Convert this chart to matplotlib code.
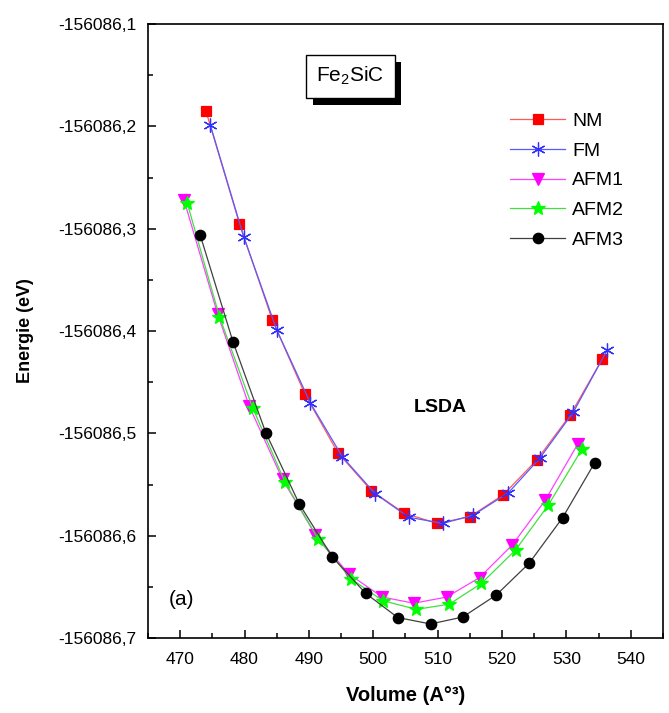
import numpy as np
import matplotlib
matplotlib.use('Agg')
import matplotlib.pyplot as plt
import matplotlib.patheffects as pe
from matplotlib.ticker import MultipleLocator, FuncFormatter

plt.rcParams['font.family'] = ['Liberation Sans', 'DejaVu Sans']
plt.rcParams['mathtext.fontset'] = 'custom'
plt.rcParams['mathtext.rm'] = 'Liberation Sans'
plt.rcParams['mathtext.default'] = 'regular'

E0 = -156086.0

# volumes (A°^3) and energies (offset from -156086 eV)
v_nm = [474.0, 479.2, 484.3, 489.4, 494.5, 499.7, 504.8, 509.9, 515.0, 520.2, 525.4, 530.6, 535.6]
e_nm = [-0.185, -0.295, -0.389, -0.462, -0.519, -0.556, -0.578, -0.588, -0.5815, -0.560, -0.526, -0.482, -0.427]

v_fm = [474.7, 479.9, 485.0, 490.2, 495.2, 500.3, 505.5, 510.8, 515.5, 521.0, 525.9, 531.1, 536.3]
e_fm = [-0.199, -0.3085, -0.399, -0.470, -0.523, -0.559, -0.582, -0.588, -0.580, -0.558, -0.524, -0.479, -0.419]

v_afm1 = [470.6, 475.8, 480.7, 485.9, 491.0, 496.2, 501.4, 506.3, 511.4, 516.5, 521.6, 526.7, 531.8]
e_afm1 = [-0.272, -0.383, -0.473, -0.545, -0.599, -0.6375, -0.660, -0.666, -0.660, -0.641, -0.609, -0.5655, -0.510]

v_afm2 = [471.1, 476.1, 481.3, 486.3, 491.4, 496.5, 501.5, 506.7, 511.8, 516.8, 522.1, 527.2, 532.4]
e_afm2 = [-0.275, -0.386, -0.4756, -0.548, -0.603, -0.642, -0.6636, -0.672, -0.667, -0.6466, -0.614, -0.570, -0.5156]

v_afm3 = [473.1, 478.2, 483.3, 488.5, 493.6, 498.8, 503.8, 508.9, 513.9, 519.1, 524.2, 529.4, 534.4]
e_afm3 = [-0.306, -0.4105, -0.4994, -0.569, -0.6205, -0.6563, -0.680, -0.6863, -0.6795, -0.658, -0.627, -0.5825, -0.5287]

series = [
    ('NM', v_nm, e_nm, '#ff5a5a', 'red', 's', 7),
    ('FM', v_fm, e_fm, '#5a5aff', '#3030ff', (6, 2, 0), 10),
    ('AFM1', v_afm1, e_afm1, '#ff40ff', '#ff00ff', 'v', 8),
    ('AFM2', v_afm2, e_afm2, '#40e040', '#00ff00', '*', 10),
    ('AFM3', v_afm3, e_afm3, '#404040', 'black', 'o', 7.5),
]


def main():
    fig = plt.figure(figsize=(6.69, 7.13), dpi=100)
    ax = fig.add_axes([0.2212, 0.1052, 0.7698, 0.8611])

    for name, v, e, lc, mc, mk, ms in series:
        ax.plot(v, E0 + np.array(e), color=lc, lw=0.9, marker=mk, ms=ms,
                markerfacecolor=mc, markeredgecolor=mc, markeredgewidth=0.9,
                label=name)

    ax.set_xlim(465, 545)
    ax.set_ylim(E0 - 0.7, E0 - 0.1)
    ax.xaxis.set_major_locator(MultipleLocator(10))
    ax.xaxis.set_minor_locator(MultipleLocator(5))
    ax.yaxis.set_major_locator(MultipleLocator(0.1))
    ax.yaxis.set_minor_locator(MultipleLocator(0.05))
    ax.yaxis.set_major_formatter(FuncFormatter(lambda y, p: ('%.1f' % y).replace('.', ',')))
    ax.tick_params(which='both', direction='in', top=False, right=False, labelsize=12.5, width=1.1)
    ax.tick_params(which='major', length=6)
    ax.tick_params(axis='y', which='major', pad=8)
    ax.tick_params(axis='x', which='major', pad=10)
    ax.tick_params(which='minor', length=3.5)
    for s in ax.spines.values():
        s.set_linewidth(1.2)

    ax.set_xlabel('Volume (A°³)', fontsize=14.5, fontweight='bold', labelpad=14)
    ax.set_ylabel('Energie (eV)', fontsize=13, fontweight='bold', labelpad=18)

    ax.legend(loc='upper left', bbox_to_anchor=(0.703, 0.856), frameon=False,
              fontsize=14, handlelength=2.85, handletextpad=0.36, labelspacing=0.62,
              borderpad=0, borderaxespad=0)

    ax.text(510.4, E0 - 0.475, 'LSDA', fontsize=14, fontweight='bold', ha='center', va='center')
    ax.text(470.2, E0 - 0.662, '(a)', fontsize=15, ha='center', va='center')
    t = ax.text(496.4, E0 - 0.151, 'Fe$_2$SiC', fontsize=15, ha='center', va='center',
                bbox=dict(boxstyle='square,pad=0.5', fc='white', ec='black', lw=1.0))
    t.get_bbox_patch().set_path_effects([
        pe.SimplePatchShadow(offset=(5, -5), shadow_rgbFace='black', alpha=1.0),
        pe.Normal()])

    plt.savefig('out.png', dpi=100)


if __name__ == "__main__":
    main()
